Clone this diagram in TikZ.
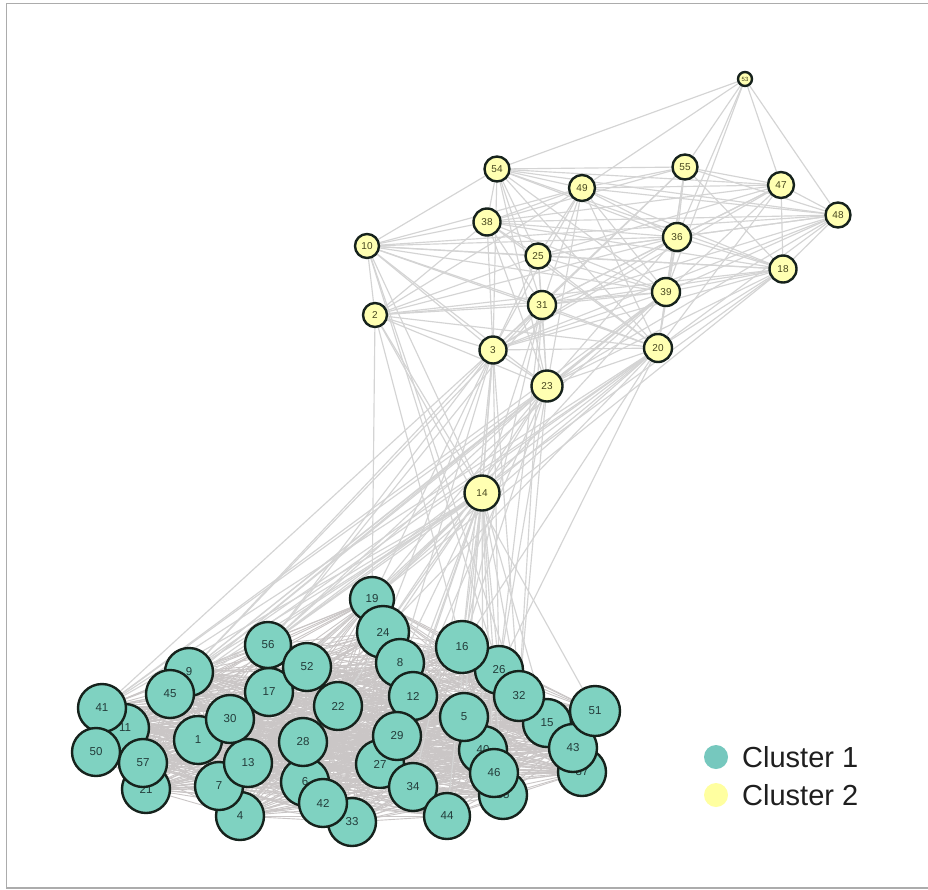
\documentclass[tikz,border=0pt]{standalone}
\usepackage{fontspec}
\setmainfont{Liberation Sans}
\pgfdeclarelayer{edges}
\pgfsetlayers{edges,main}

\definecolor{tealfill}{RGB}{127,210,193}
\definecolor{yelfill}{RGB}{255,255,178}
\definecolor{ring}{RGB}{22,34,28}
\definecolor{edgegray}{RGB}{212,212,212}
\definecolor{densegray}{RGB}{202,198,198}
\definecolor{framegray}{RGB}{172,172,172}
\definecolor{legteal}{RGB}{118,200,190}
\definecolor{legyel}{RGB}{255,255,160}

\tikzset{
  cl1/.style={circle, draw=ring, line width=2.4pt, fill=tealfill, minimum size=48pt,
    inner sep=0pt, font=\fontsize{11.5}{11.5}\selectfont, text={rgb,255:red,35;green,60;blue,58}},
  cl2/.style={circle, draw=ring, line width=2.4pt, fill=yelfill, minimum size=25pt,
    inner sep=0pt, font=\fontsize{10}{10}\selectfont, text={rgb,255:red,70;green,70;blue,30}},
  link/.style={draw=edgegray, line width=1.15pt},
  denselink/.style={draw=densegray, line width=0.9pt},
  legtext/.style={anchor=west, inner sep=0pt, font=\fontsize{29}{29}\selectfont, text=black!88},
}

\begin{document}
\begin{tikzpicture}[x=1pt,y=-1pt]
\useasboundingbox (0,0) rectangle (928,889);

% ---- cluster 2 (yellow) ----
\node[cl2, minimum size=14pt, font=\fontsize{6}{6}\selectfont] (y53) at (745,79) {53};
\node[cl2] (y54) at (497,169) {54};
\node[cl2] (y55) at (685,167) {55};
\node[cl2, minimum size=26pt] (y49) at (582,188) {49};
\node[cl2, minimum size=26pt] (y47) at (781,185) {47};
\node[cl2] (y48) at (838,215) {48};
\node[cl2, minimum size=27pt] (y38) at (487,222) {38};
\node[cl2, minimum size=28pt] (y36) at (677,237) {36};
\node[cl2, minimum size=24pt] (y10) at (367,246) {10};
\node[cl2] (y25) at (538,256) {25};
\node[cl2, minimum size=27pt] (y18) at (783,269) {18};
\node[cl2, minimum size=28pt] (y39) at (666,292) {39};
\node[cl2, minimum size=28pt] (y31) at (542,305) {31};
\node[cl2, minimum size=24pt] (y2) at (375,315) {2};
\node[cl2, minimum size=27pt] (y3) at (493,350) {3};
\node[cl2, minimum size=28pt] (y20) at (658,348) {20};
\node[cl2, minimum size=31pt] (y23) at (547,386) {23};
\node[cl2, minimum size=35pt] (y14) at (482,493) {14};

% ---- cluster 1 (teal), listed from back to front ----
\node[cl1, minimum size=44pt] (t19) at (372,599) {19};
\node[cl1, minimum size=52pt] (t24) at (383,632) {24};
\node[cl1] (t8) at (400,663) {8};
\node[cl1] (t12) at (413,696) {12};
\node[cl1] (t11) at (125,728) {11};
\node[cl1] (t41) at (102,708) {41};
\node[cl1] (t50) at (96,752) {50};
\node[cl1] (t21) at (146,789) {21};
\node[cl1] (t57) at (143,763) {57};
\node[cl1] (t9) at (189,672) {9};
\node[cl1] (t45) at (170,694) {45};
\node[cl1] (t17) at (269,692) {17};
\node[cl1, minimum size=46pt] (t56) at (268,645) {56};
\node[cl1] (t52) at (307,667) {52};
\node[cl1] (t22) at (338,706) {22};
\node[cl1] (t4) at (240,816) {4};
\node[cl1] (t7) at (219,786) {7};
\node[cl1] (t13) at (248,763) {13};
\node[cl1] (t1) at (198,740) {1};
\node[cl1] (t30) at (230,719) {30};
\node[cl1] (t6) at (305,782) {6};
\node[cl1] (t28) at (303,742) {28};
\node[cl1] (t33) at (352,822) {33};
\node[cl1] (t42) at (323,803) {42};
\node[cl1] (t27) at (380,764) {27};
\node[cl1] (t29) at (397,736) {29};
\node[cl1] (t34) at (413,787) {34};
\node[cl1, minimum size=46pt] (t44) at (447,816) {44};
\node[cl1] (t26) at (499,670) {26};
\node[cl1, minimum size=52pt] (t16) at (462,647) {16};
\node[cl1] (t15) at (547,723) {15};
\node[cl1, minimum size=50pt] (t32) at (519,696) {32};
\node[cl1] (t40) at (483,750) {40};
\node[cl1] (t35) at (503,795) {35};
\node[cl1] (t46) at (494,773) {46};
\node[cl1] (t5) at (464,717) {5};
\node[cl1] (t37) at (582,772) {37};
\node[cl1] (t43) at (573,748) {43};
\node[cl1, minimum size=50pt] (t51) at (595,711) {51};

% ---- legend ----
\fill[legteal] (716,757) circle (12pt) node[coordinate] (k1) {};
\fill[legyel] (716,795) circle (12pt) node[coordinate] (k2) {};
\node[legtext] (l1) at (742,757) {Cluster 1};
\node[legtext] (l2) at (742,795) {Cluster 2};

% ---- background, frame and connectors, beneath the nodes ----
\begin{pgfonlayer}{edges}
  \fill[white] (0,0) rectangle (928,889);
  \draw[framegray, line width=1.5pt] (928,3.5) -- (6.5,3.5) -- (6.5,888) -- (928,888);
  % within cluster 1: every pair
  \foreach \a [count=\i] in {19,24,8,12,11,41,50,21,57,9,45,17,56,52,22,4,7,13,1,30,6,28,33,42,27,29,34,44,26,16,15,32,40,35,46,5,37,43,51}{
    \foreach \b [count=\j] in {19,24,8,12,11,41,50,21,57,9,45,17,56,52,22,4,7,13,1,30,6,28,33,42,27,29,34,44,26,16,15,32,40,35,46,5,37,43,51}{
      \ifnum\j>\i \draw[denselink] (t\a) -- (t\b); \fi
    }
  }
  % within cluster 2
  \foreach \a/\b in {
    53/54,53/49,53/55,53/36,53/39,53/47,53/48,
    10/54,10/38,10/49,10/25,10/36,10/18,10/31,10/39,10/3,10/20,10/2,10/23,10/14,10/48,
    2/38,2/49,2/31,2/39,2/36,2/18,2/3,2/20,2/23,2/14,2/25,
    54/55,54/49,54/47,54/38,54/25,54/31,54/3,54/36,54/39,54/20,54/23,54/18,54/48,
    55/49,55/47,55/48,55/36,55/39,55/38,55/18,55/20,55/31,55/3,
    49/47,49/48,49/38,49/36,49/25,49/31,49/3,49/39,49/20,49/23,49/18,
    47/48,47/18,47/36,47/38,47/25,47/31,47/39,47/20,47/3,
    48/18,48/36,48/38,48/25,48/31,48/39,48/20,48/3,48/23,
    38/36,38/25,38/31,38/3,38/39,38/20,38/23,38/18,
    36/25,36/39,36/31,36/3,36/20,36/23,36/18,
    25/31,25/3,25/39,25/20,25/23,25/18,
    18/39,18/31,18/3,18/20,18/23,
    39/31,39/3,39/20,39/23,39/14,
    31/3,31/20,31/23,31/14,
    3/20,3/23,3/14,
    20/23,20/14,23/14}
    \draw[link] (y\a) -- (y\b);
  % between the two clusters
  \foreach \a/\b in {
    2/19,2/51,2/16,
    10/26,10/32,
    14/19,14/24,14/8,14/12,14/16,14/26,14/32,14/5,14/29,14/40,14/46,14/35,14/44,
    14/34,14/56,14/52,14/17,14/22,14/45,14/9,14/41,14/15,14/27,14/11,
    3/24,3/19,3/56,3/9,3/8,3/16,3/26,3/5,3/41,3/32,
    23/56,23/9,23/41,23/45,23/19,23/24,23/16,23/26,23/32,23/12,
    20/19,20/56,20/9,20/41,20/24,20/26,20/16,20/45,
    31/16,31/26,31/32,31/9,31/56,
    39/41,39/9,39/56,39/45,
    18/19,18/56}
    \draw[link] (y\a) -- (t\b);
\end{pgfonlayer}
\end{tikzpicture}
\end{document}
